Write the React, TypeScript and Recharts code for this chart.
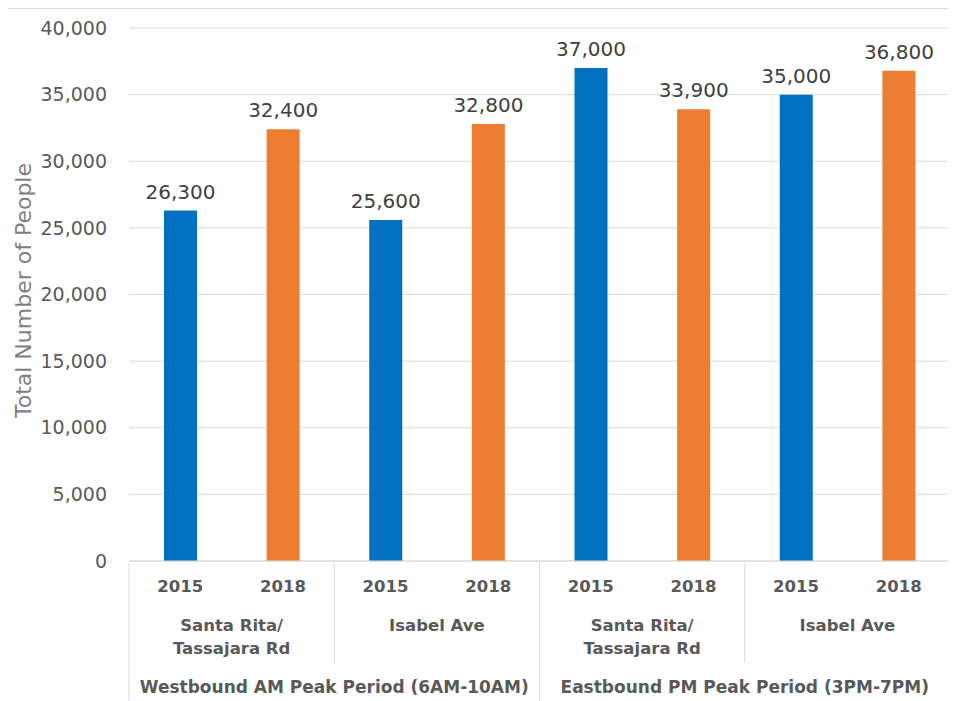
import { BarChart, Bar, XAxis, YAxis, CartesianGrid, Cell, LabelList, Label } from 'recharts'

const years = ['2015', '2018', '2015', '2018', '2015', '2018', '2015', '2018']
const people = [26300, 32400, 25600, 32800, 37000, 33900, 35000, 36800]
const locationKeys = ['wb-sr', 'wb-sr', 'wb-ia', 'wb-ia', 'eb-sr', 'eb-sr', 'eb-ia', 'eb-ia']
const locationLabels: Record<string, string[]> = {
  'wb-sr': ['Santa Rita/', 'Tassajara Rd'],
  'wb-ia': ['Isabel Ave'],
  'eb-sr': ['Santa Rita/', 'Tassajara Rd'],
  'eb-ia': ['Isabel Ave'],
}
const directionKeys = ['wb', 'wb', 'wb', 'wb', 'eb', 'eb', 'eb', 'eb']
const directionLabels: Record<string, string> = {
  wb: 'Westbound AM Peak Period (6AM-10AM)',
  eb: 'Eastbound PM Peak Period (3PM-7PM)',
}
const yTicks = [0, 5000, 10000, 15000, 20000, 25000, 30000, 35000, 40000]

const YEAR_COLORS: Record<string, string> = { '2015': '#0070C0', '2018': '#ED7D31' }

const data = people.map((v, i) => ({
  year: years[i],
  value: v,
  loc: locationKeys[i],
  dir: directionKeys[i],
  key: `${directionKeys[i]}-${locationKeys[i]}-${years[i]}`,
}))

const FONT = '"DejaVu Sans", sans-serif'
const CHART_W = 946
const CHART_H = 692
const Y_W = 121
const M_RIGHT = 4
const PLOT_W = CHART_W - Y_W - M_RIGHT
const YEAR_H = 45
const LOC_H = 55
const DIR_H = 40
const LINE = '#d9d9d9'
const fmt = (v: number) => v.toLocaleString('en-US')

// axis ids are sorted, so "a" sits next to the plot and "c" at the bottom
const YEAR_AXIS = 'a-year'
const LOC_AXIS = 'b-loc'
const DIR_AXIS = 'c-dir'

const YearTick = ({ x, y, payload }: any) => (
  <text x={x} y={y + 29} textAnchor='middle' fill='#595959' fontFamily={FONT} fontWeight='bold' fontSize={16.5}>
    {years[payload.index] ?? payload.value}
  </text>
)

const LocationTick = ({ x, y, payload, index }: any) => {
  const half = PLOT_W / 8
  const lines = locationLabels[payload.value] || []
  const isLast = index === 3
  return (
    <g>
      <line x1={x - half} x2={x - half} y1={y - YEAR_H} y2={y + LOC_H} stroke={LINE} />
      {isLast && <line x1={x + half} x2={x + half} y1={y - YEAR_H} y2={y + LOC_H} stroke={LINE} />}
      {lines.map((t, i) => (
        <text key={t} x={x} y={y + 23 + i * 23} textAnchor='middle' fill='#595959' fontFamily={FONT} fontWeight='bold' fontSize={16.5}>
          {t}
        </text>
      ))}
    </g>
  )
}

const DirectionTick = ({ x, y, payload }: any) => {
  const half = PLOT_W / 4
  return (
    <g>
      <line x1={x - half} x2={x - half} y1={y} y2={y + DIR_H} stroke={LINE} />
      <line x1={x + half} x2={x + half} y1={y} y2={y + DIR_H} stroke={LINE} />
      <text x={x} y={y + 30} textAnchor='middle' fill='#595959' fontFamily={FONT} fontWeight='bold' fontSize={17}>
        {directionLabels[payload.value]}
      </text>
    </g>
  )
}

const YLabel = ({ viewBox }: any) => {
  const cx = 17
  const cy = viewBox.y + viewBox.height / 2 - 4
  return (
    <text x={cx} y={cy} transform={`rotate(-90, ${cx}, ${cy})`} textAnchor='middle' dominantBaseline='middle' fill='#7f7f7f' fontFamily={FONT} fontSize={22}>
      Total Number of People
    </text>
  )
}

export default function App() {
  return (
    <div style={{ width: CHART_W, height: CHART_H + 10, border: `1px solid ${LINE}`, marginLeft: -1, background: '#fff' }}>
      <BarChart width={CHART_W} height={CHART_H} data={data} margin={{ top: 19, right: M_RIGHT, left: 0, bottom: 0 }} barSize={33}>
        <CartesianGrid vertical={false} stroke={LINE} xAxisId={YEAR_AXIS} />
        <XAxis
          dataKey='key'
          xAxisId={YEAR_AXIS}
          height={YEAR_H}
          tickLine={false}
          tickSize={0}
          axisLine={{ stroke: LINE }}
          interval={0}
          tick={<YearTick />}
        />
        <XAxis
          dataKey='loc'
          xAxisId={LOC_AXIS}
          allowDuplicatedCategory={false}
          height={LOC_H}
          tickLine={false}
          tickSize={0}
          axisLine={false}
          interval={0}
          tick={<LocationTick />}
        />
        <XAxis
          dataKey='dir'
          xAxisId={DIR_AXIS}
          allowDuplicatedCategory={false}
          height={DIR_H}
          tickLine={false}
          tickSize={0}
          axisLine={false}
          interval={0}
          tick={<DirectionTick />}
        />
        <YAxis
          width={Y_W}
          domain={[0, 40000]}
          ticks={yTicks}
          tickFormatter={fmt}
          tickLine={false}
          axisLine={false}
          tickSize={0}
          tickMargin={22}
          tick={{ fill: '#595959', fontSize: 19, fontFamily: FONT }}
        >
          <Label content={<YLabel />} />
        </YAxis>
        <Bar dataKey='value' xAxisId={YEAR_AXIS} isAnimationActive={false}>
          {data.map((d) => (
            <Cell key={d.key} fill={YEAR_COLORS[d.year]} />
          ))}
          <LabelList dataKey='value' position='top' offset={12} formatter={(v: any) => fmt(Number(v))} fill='#404040' fontSize={20} fontFamily={FONT} />
        </Bar>
      </BarChart>
    </div>
  )
}
